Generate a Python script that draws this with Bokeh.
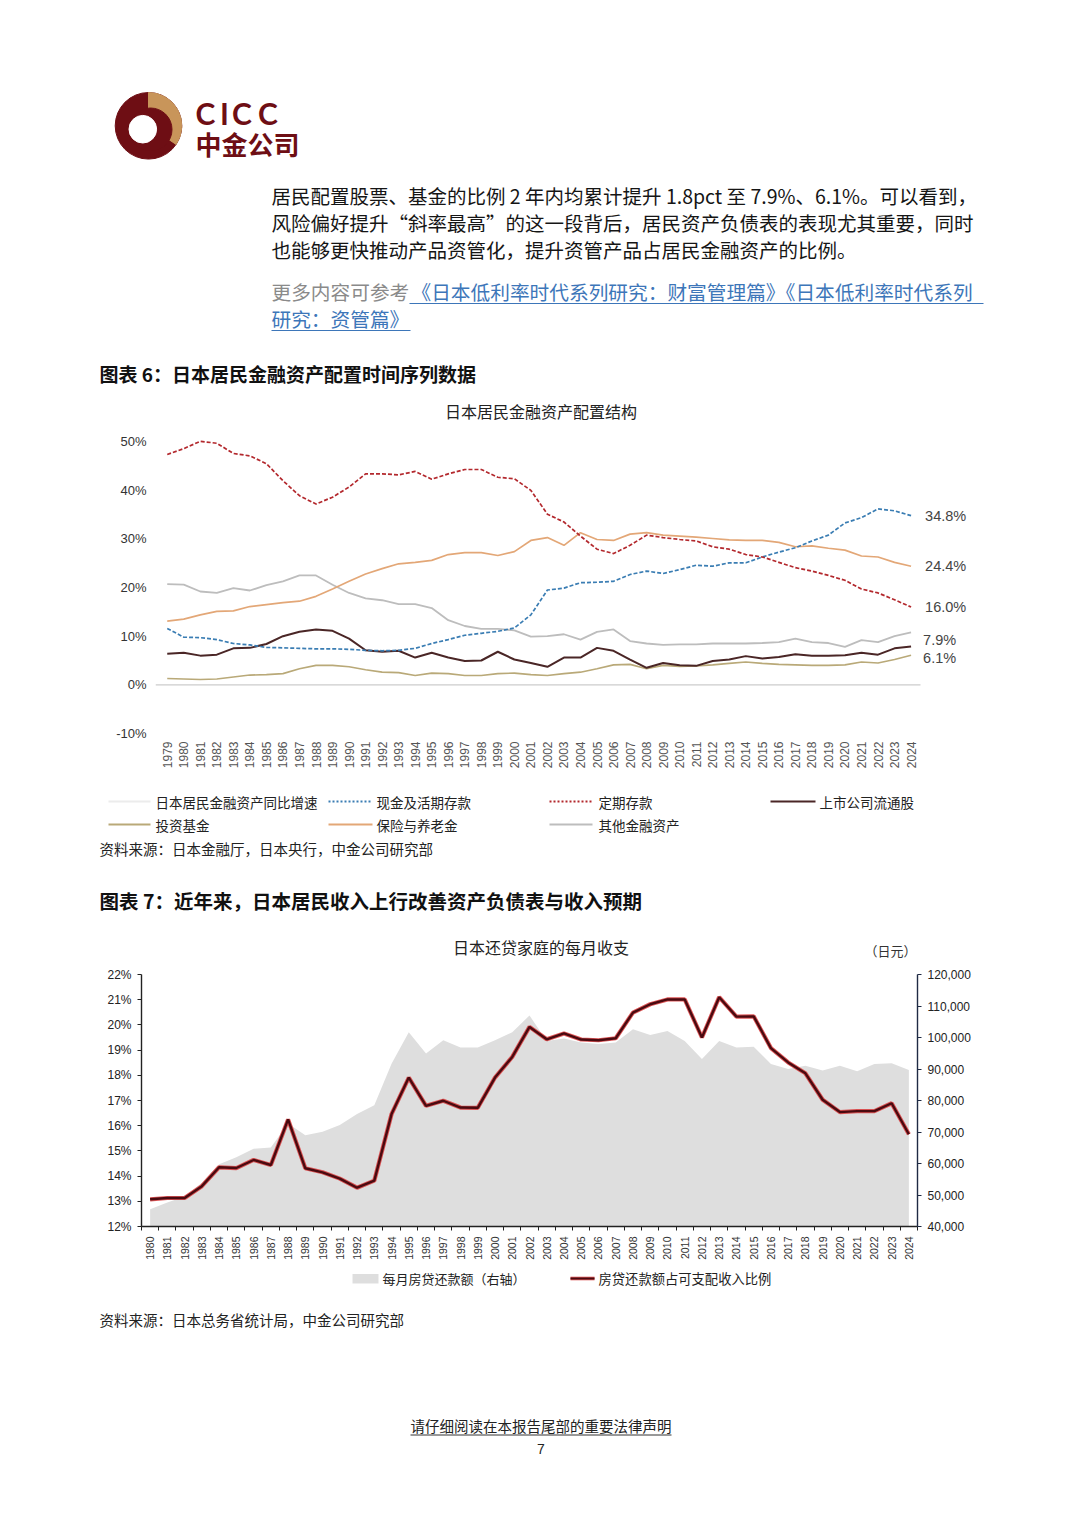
import math
from bokeh.plotting import figure
from bokeh.models import Range1d, FixedTicker, LinearAxis, PrintfTickFormatter, NumeralTickFormatter
from bokeh.embed import file_html
from bokeh.resources import INLINE
from bokeh.core.properties import value

# ---------------- data: chart 6 (share of household financial assets, %) ----------------
years1 = list(range(1979, 2025))
cash_demand = [11.6, 9.8, 9.7, 9.3, 8.5, 8.2, 7.7, 7.6, 7.5, 7.4,
               7.4, 7.3, 7.1, 7.0, 7.1, 7.5, 8.5, 9.3, 10.2, 10.6,
               11.0, 11.7, 14.4, 19.5, 19.9, 21.0, 21.1, 21.3, 22.7, 23.4,
               22.9, 23.7, 24.6, 24.4, 25.1, 25.1, 26.3, 27.3, 28.2, 29.6,
               30.8, 33.3, 34.4, 36.2, 35.8, 34.8]
time_deposit = [47.4, 48.6, 50.1, 49.7, 47.6, 47.1, 45.5, 42.0, 38.9, 37.2,
                38.6, 40.7, 43.4, 43.4, 43.2, 43.9, 42.3, 43.4, 44.3, 44.3,
                42.7, 42.4, 40.0, 35.1, 33.5, 30.6, 27.9, 27.0, 28.7, 30.8,
                30.3, 29.9, 29.6, 28.4, 27.9, 26.8, 26.3, 25.2, 24.1, 23.4,
                22.5, 21.5, 19.7, 18.9, 17.5, 16.0]
listed_stocks = [6.4, 6.6, 6.0, 6.2, 7.5, 7.6, 8.4, 10.0, 10.9, 11.4,
                 11.1, 9.5, 7.1, 6.8, 7.0, 5.6, 6.6, 5.6, 4.9, 5.0,
                 6.8, 5.2, 4.5, 3.7, 5.6, 5.6, 7.6, 7.0, 5.2, 3.5,
                 4.5, 4.0, 3.9, 4.9, 5.2, 5.9, 5.4, 5.7, 6.3, 6.0,
                 6.0, 6.1, 6.6, 6.2, 7.5, 7.9]
inv_funds = [1.3, 1.2, 1.1, 1.2, 1.6, 2.0, 2.1, 2.3, 3.3, 4.0,
             4.0, 3.7, 3.1, 2.6, 2.5, 1.9, 2.4, 2.3, 1.9, 1.9,
             2.3, 2.4, 2.1, 1.9, 2.3, 2.6, 3.3, 4.1, 4.2, 3.3,
             4.0, 3.8, 3.9, 4.1, 4.4, 4.7, 4.4, 4.2, 4.1, 4.0,
             4.0, 4.1, 4.7, 4.5, 5.2, 6.1]
insurance = [13.1, 13.5, 14.4, 15.1, 15.2, 16.1, 16.5, 16.9, 17.2, 18.2,
             19.7, 21.3, 22.8, 23.9, 24.9, 25.2, 25.6, 26.8, 27.2, 27.2,
             26.6, 27.4, 29.7, 30.3, 28.7, 31.3, 29.9, 29.7, 31.0, 31.3,
             30.8, 30.6, 30.4, 30.1, 29.8, 29.7, 29.7, 29.3, 28.4, 28.6,
             28.1, 27.7, 26.5, 26.3, 25.2, 24.4]
other_assets = [20.7, 20.6, 19.2, 18.9, 19.9, 19.4, 20.5, 21.3, 22.5, 22.5,
                20.6, 18.9, 17.8, 17.4, 16.6, 16.6, 15.8, 13.3, 12.1, 11.5,
                11.5, 11.2, 9.9, 10.0, 10.4, 9.3, 10.9, 11.4, 9.0, 8.5,
                8.2, 8.3, 8.3, 8.5, 8.5, 8.5, 8.6, 8.8, 9.5, 8.8,
                8.6, 7.8, 9.2, 8.8, 10.0, 10.8]
y1_ticks = [-10, 0, 10, 20, 30, 40, 50]

# ---------------- data: chart 7 (mortgage households) ----------------
years2 = list(range(1980, 2025))
repay_ratio = [13.08, 13.13, 13.13, 13.60, 14.35, 14.32, 14.64, 14.44, 16.25, 14.31,
               14.15, 13.90, 13.54, 13.82, 16.46, 17.91, 16.79, 16.99, 16.72, 16.71,
               17.91, 18.73, 19.92, 19.43, 19.66, 19.42, 19.39, 19.47, 20.49, 20.82,
               21.01, 21.01, 19.50, 21.10, 20.33, 20.34, 19.08, 18.51, 18.08, 17.03,
               16.54, 16.58, 16.58, 16.89, 15.66]
monthly_repay = [45500, 47600, 49500, 53900, 59800, 62000, 64700, 65100, 72700, 69000,
                 70100, 72200, 75700, 78500, 91700, 101700, 94900, 99100, 96800, 96800,
                 99100, 101700, 107000, 98900, 99700, 98400, 97900, 98400, 102600, 100800,
                 102100, 98900, 93200, 98900, 96800, 97100, 91600, 90000, 91000, 89500,
                 91000, 89300, 91600, 91800, 89700]
y2_left_ticks = list(range(12, 23))
y2_right_ticks = list(range(40000, 120001, 10000))

CJK = "Noto Sans CJK SC"
LAT = "Liberation Sans"
W = 1072
MAROON = "#6e0e14"
GOLD = "#c8955a"

C_CASH = "#3a7db3"
C_TIME = "#b3282d"
C_STOCK = "#4a2626"
C_FUND = "#b9a978"
C_INS = "#e3a777"
C_OTHER = "#bdbdbd"
C_GROWTH = "#ececec"


def panel(top, bottom):
    p = figure(width=W, height=bottom - top, x_range=Range1d(0, W),
               y_range=Range1d(-bottom, -top), output_backend="svg",
               toolbar_location=None, min_border=0,
               x_axis_location=None, y_axis_location=None)
    p.grid.visible = False
    p.outline_line_color = None
    p.background_fill_color = "white"
    p.border_fill_color = "white"
    return p


def txt(p, x, y, s, size, color="#1a1a1a", font=CJK, style="normal", align="left"):
    p.text(x=[x], y=[-y], text=[s], text_font=value(font), text_font_size=f"{size}px",
           text_color=color, text_font_style=style, text_align=align, text_baseline="middle")


# ---------------- header panel ----------------
h = panel(0, 428)
# logo
h.circle(x=[148], y=[-125.3], radius=33.3, color=MAROON)
h.wedge(x=[148], y=[-125.3], radius=33.3, start_angle=math.radians(-34),
        end_angle=math.radians(90), color=GOLD)
h.circle(x=[150], y=[-129], radius=21.5, color=MAROON)
h.circle(x=[142.3], y=[-128.7], radius=13.8, color="white")
for ch, cx in zip(["C", "I", "C", "C"], [205, 224, 241.5, 267.5]):
    txt(h, cx, 112.5, ch, 30, MAROON, "Lato", "bold", "center")
txt(h, 195, 143, "中金公司", 26, MAROON, CJK, "bold")

para = ["居民配置股票、基金的比例 2 年内均累计提升 1.8pct 至 7.9%、6.1%。可以看到，",
        "风险偏好提升“斜率最高”的这一段背后，居民资产负债表的表现尤其重要，同时",
        "也能够更快推动产品资管化，提升资管产品占居民金融资产的比例。"]
for i, line in enumerate(para):
    txt(h, 271, 195 + 27 * i, line, 19.5, "#151515")

txt(h, 271, 291, "更多内容可参考", 19.7, "#8a8a8a")
LINK = "#3d76b9"
txt(h, 411, 291, "《日本低利率时代系列研究：财富管理篇》《日本低利率时代系列", 19.7, LINK)
txt(h, 271, 318, "研究：资管篇》", 19.7, LINK)
h.segment(x0=[409, 271], y0=[-303, -330], x1=[983, 410], y1=[-303, -330], line_color=LINK, line_width=1.2)

txt(h, 99, 373, "图表 6：日本居民金融资产配置时间序列数据", 19, "#111111", CJK, "bold")
txt(h, 540.5, 410, "日本居民金融资产配置结构", 16, "#222222", CJK, "normal", "center")

# ---------------- chart 6 ----------------
X1_START, X1_AXIS_END, X1_END = 1978.29, 2024.57, 2029.41
p1 = figure(width=W, height=350, x_range=Range1d(X1_START, X1_END), y_range=Range1d(-11.05, 51.09),
            output_backend="svg", toolbar_location=None,
            min_border_left=155, min_border_right=W - 1000, min_border_top=8, min_border_bottom=40)
p1.outline_line_color = None
p1.background_fill_color = "white"
p1.border_fill_color = "white"
p1.grid.visible = False
# zero reference line (stops at the end of the category axis)
p1.segment(x0=[X1_START], y0=[0], x1=[X1_AXIS_END], y1=[0], line_color="#cccccc", line_width=1.2)

p1.yaxis.ticker = FixedTicker(ticks=y1_ticks)
p1.yaxis.formatter = PrintfTickFormatter(format="%d%%")
p1.xaxis.ticker = FixedTicker(ticks=years1)
p1.xaxis.major_label_orientation = math.pi / 2
for ax in (p1.xaxis, p1.yaxis):
    ax.axis_line_color = None
    ax.major_tick_line_color = None
    ax.minor_tick_line_color = None
    ax.major_tick_out = 0
    ax.major_tick_in = 0
    ax.major_label_text_font = LAT
p1.yaxis.major_label_text_font_size = "13px"
p1.yaxis.major_label_text_color = "#333333"
p1.yaxis.major_label_standoff = 9
p1.xaxis.major_label_text_font_size = "12px"
p1.xaxis.major_label_text_color = "#555555"
p1.xaxis.major_label_standoff = 3

p1.line(years1, other_assets, line_color=C_OTHER, line_width=1.8)
p1.line(years1, inv_funds, line_color=C_FUND, line_width=1.6)
p1.line(years1, insurance, line_color=C_INS, line_width=1.7)
p1.line(years1, listed_stocks, line_color=C_STOCK, line_width=2.0)
p1.line(years1, cash_demand, line_color=C_CASH, line_width=1.7, line_dash="4 2")
p1.line(years1, time_deposit, line_color=C_TIME, line_width=1.7, line_dash="4 2")

end_series = [cash_demand, insurance, time_deposit, listed_stocks, inv_funds]
end_offsets = [(14, 0), (14, 0), (14, 0), (12, 6), (12, -3)]
for s, (dx, dy) in zip(end_series, end_offsets):
    p1.text(x=[years1[-1]], y=[s[-1]], text=[f"{s[-1]:.1f}%"], x_offset=dx, y_offset=-dy,
            text_font=value(LAT), text_font_size="14.5px", text_color="#444444",
            text_baseline="middle", text_align="left")

# ---------------- legend 6 + source ----------------
lg = panel(778, 870)
legend1 = [
    ("日本居民金融资产同比增速", C_GROWTH, None, 108, 150, 155, 801),
    ("现金及活期存款", C_CASH, "2 2", 328, 372, 376, 801),
    ("定期存款", C_TIME, "2 2", 549, 592, 598, 801),
    ("上市公司流通股", C_STOCK, None, 770, 815, 819, 801),
    ("投资基金", C_FUND, None, 108, 150, 155, 824),
    ("保险与养老金", C_INS, None, 328, 372, 376, 824),
    ("其他金融资产", C_OTHER, None, 549, 592, 598, 824),
]
for name, col, dash, x0, x1, tx, yy in legend1:
    kw = dict(line_dash=dash) if dash else {}
    lg.segment(x0=[x0], y0=[-yy], x1=[x1], y1=[-yy], line_color=col, line_width=2, **kw)
    txt(lg, tx, yy, name, 13.5, "#222222")
txt(lg, 99, 848, "资料来源：日本金融厅，日本央行，中金公司研究部", 14.5, "#222222")

# ---------------- chart 7 heading ----------------
h2 = panel(870, 966)
txt(h2, 99, 900, "图表 7：近年来，日本居民收入上行改善资产负债表与收入预期", 19.5, "#111111", CJK, "bold")
txt(h2, 540.5, 946, "日本还贷家庭的每月收支", 16, "#222222", CJK, "normal", "center")
txt(h2, 864, 950, "（日元）", 13, "#333333")

# ---------------- chart 7 ----------------
p2 = figure(width=W, height=296, x_range=Range1d(1979.5, 2024.5), y_range=Range1d(12, 22),
            output_backend="svg", toolbar_location=None,
            min_border_left=141, min_border_right=W - 917, min_border_top=8, min_border_bottom=35)
p2.outline_line_color = None
p2.background_fill_color = "white"
p2.border_fill_color = "white"
p2.grid.visible = False
p2.extra_y_ranges = {"amt": Range1d(40000, 120000)}

p2.varea(x=years2, y1=[40000] * len(years2), y2=monthly_repay, y_range_name="amt", fill_color="#dedede")
p2.line(years2, repay_ratio, line_color="#d8383a", line_width=4.2, line_alpha=0.85)
p2.line(years2, repay_ratio, line_color="#4a0a10", line_width=2.4)

p2.yaxis.ticker = FixedTicker(ticks=y2_left_ticks)
p2.yaxis.formatter = PrintfTickFormatter(format="%d%%")
ax_r = LinearAxis(y_range_name="amt", ticker=FixedTicker(ticks=y2_right_ticks),
                  formatter=NumeralTickFormatter(format="0,0"))
p2.add_layout(ax_r, "right")

for ax, col in ((p2.yaxis[0], "#222222"), (ax_r, "#1f2a44")):
    ax.axis_line_color = col
    ax.axis_line_width = 1.4
    ax.major_tick_line_color = col
    ax.major_tick_out = 4
    ax.major_tick_in = 0
    ax.minor_tick_line_color = None
    ax.major_label_text_font = LAT
    ax.major_label_text_font_size = "12px"
    ax.major_label_text_color = "#222222"
    ax.major_label_standoff = 6

xa = p2.xaxis[0]
xa.ticker = FixedTicker(ticks=years2, minor_ticks=[y - 0.5 for y in years2] + [years2[-1] + 0.5])
xa.axis_line_color = "#222222"
xa.axis_line_width = 1.4
xa.major_tick_line_color = None
xa.major_tick_out = 0
xa.major_tick_in = 0
xa.minor_tick_line_color = "#222222"
xa.minor_tick_out = 4
xa.minor_tick_in = 0
xa.major_label_orientation = math.pi / 2
xa.major_label_text_font = LAT
xa.major_label_text_font_size = "10.5px"
xa.major_label_text_color = "#333333"
xa.major_label_standoff = 6

# ---------------- legend 7, source, footer ----------------
ft = panel(1262, 1520)
ft.quad(left=[352], right=[378], top=[-1273.5], bottom=[-1283], fill_color="#dedede", line_color=None)
txt(ft, 382, 1278, "每月房贷还款额（右轴）", 13, "#222222")
ft.segment(x0=[570], y0=[-1278], x1=[594], y1=[-1278], line_color="#d8383a", line_width=3.6, line_alpha=0.85)
ft.segment(x0=[570], y0=[-1278], x1=[594], y1=[-1278], line_color="#4a0a10", line_width=2.0)
txt(ft, 598, 1278, "房贷还款额占可支配收入比例", 13.3, "#222222")
txt(ft, 99, 1319, "资料来源：日本总务省统计局，中金公司研究部", 14.5, "#222222")
txt(ft, 540.5, 1425, "请仔细阅读在本报告尾部的重要法律声明", 14.5, "#222222", CJK, "normal", "center")
ft.segment(x0=[410], y0=[-1434.5], x1=[671], y1=[-1434.5], line_color="#333333", line_width=1)
txt(ft, 540.5, 1448, "7", 14, "#222222", LAT, "normal", "center")

roots = [h, p1, lg, h2, p2, ft]
open("out.html", "w").write(file_html(roots, INLINE))
